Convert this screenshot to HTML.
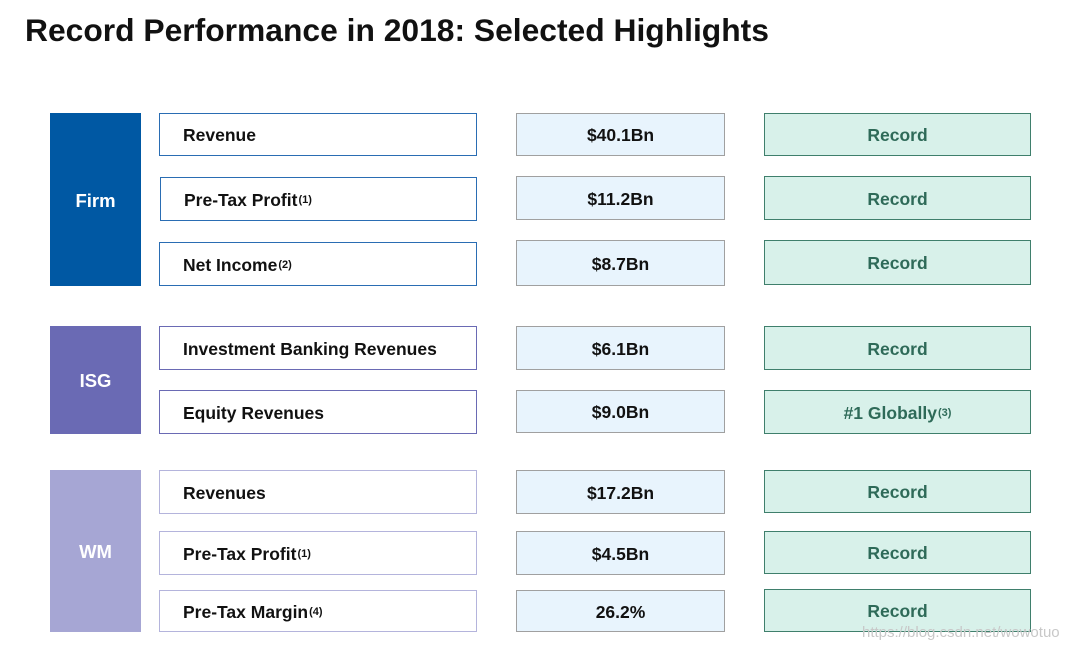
<!DOCTYPE html>
<html><head><meta charset="utf-8"><style>
body{margin:0;width:1080px;height:652px;background:#fff;position:relative;overflow:hidden;font-family:"Liberation Sans",Arial,sans-serif;font-weight:bold}
.t{position:absolute;left:25px;top:12px;font-size:31.8px;color:#111}
.b{position:absolute;box-sizing:border-box;display:flex;align-items:center;font-size:17.5px;padding-top:2px}
.g{color:#fff;justify-content:center;font-size:18.5px}
.l{background:#fff;border:1.5px solid;padding-left:23px;color:#111}
.v{background:#e8f4fd;border:1.5px solid #a0a0a0;justify-content:center;color:#111}
.r{background:#d8f1ea;border:1.5px solid #3f7f6c;justify-content:center;color:#2e6a58}
sup{font-size:11px;vertical-align:7px;margin-left:1px}
.w{position:absolute;left:862px;top:624px;font-size:15px;color:#c8c8c8;font-weight:normal}
</style></head><body>
<div class="t">Record Performance in 2018: Selected Highlights</div>
<div class="b g" style="left:50px;top:113px;width:91px;height:173px;background:#0058a3">Firm</div>
<div class="b g" style="left:50px;top:326px;width:91px;height:108px;background:#6a6ab4">ISG</div>
<div class="b g" style="left:50px;top:470px;width:91px;height:162px;background:#a6a6d4">WM</div>

<div class="b l" style="left:159px;top:113px;width:318px;height:43px;border-color:#2a6db3">Revenue</div>
<div class="b l" style="left:160px;top:177px;width:317px;height:44px;border-color:#2a6db3">Pre-Tax Profit<sup>(1)</sup></div>
<div class="b l" style="left:159px;top:242px;width:318px;height:44px;border-color:#2a6db3">Net Income<sup>(2)</sup></div>
<div class="b l" style="left:159px;top:326px;width:318px;height:44px;border-color:#6a6ab4">Investment Banking Revenues</div>
<div class="b l" style="left:159px;top:390px;width:318px;height:44px;border-color:#6a6ab4">Equity Revenues</div>
<div class="b l" style="left:159px;top:470px;width:318px;height:44px;border-color:#b4b4dc">Revenues</div>
<div class="b l" style="left:159px;top:531px;width:318px;height:44px;border-color:#b4b4dc">Pre-Tax Profit<sup>(1)</sup></div>
<div class="b l" style="left:159px;top:590px;width:318px;height:42px;border-color:#b4b4dc">Pre-Tax Margin<sup>(4)</sup></div>

<div class="b v" style="left:516px;top:113px;width:209px;height:43px">$40.1Bn</div>
<div class="b v" style="left:516px;top:176px;width:209px;height:44px">$11.2Bn</div>
<div class="b v" style="left:516px;top:240px;width:209px;height:46px">$8.7Bn</div>
<div class="b v" style="left:516px;top:326px;width:209px;height:44px">$6.1Bn</div>
<div class="b v" style="left:516px;top:390px;width:209px;height:43px">$9.0Bn</div>
<div class="b v" style="left:516px;top:470px;width:209px;height:44px">$17.2Bn</div>
<div class="b v" style="left:516px;top:531px;width:209px;height:44px">$4.5Bn</div>
<div class="b v" style="left:516px;top:590px;width:209px;height:42px">26.2%</div>

<div class="b r" style="left:764px;top:113px;width:267px;height:43px">Record</div>
<div class="b r" style="left:764px;top:176px;width:267px;height:44px">Record</div>
<div class="b r" style="left:764px;top:240px;width:267px;height:45px">Record</div>
<div class="b r" style="left:764px;top:326px;width:267px;height:44px">Record</div>
<div class="b r" style="left:764px;top:390px;width:267px;height:44px">#1 Globally<sup>(3)</sup></div>
<div class="b r" style="left:764px;top:470px;width:267px;height:43px">Record</div>
<div class="b r" style="left:764px;top:531px;width:267px;height:43px">Record</div>
<div class="b r" style="left:764px;top:589px;width:267px;height:43px">Record</div>
<div class="w">https://blog.csdn.net/wowotuo</div>
</body></html>
